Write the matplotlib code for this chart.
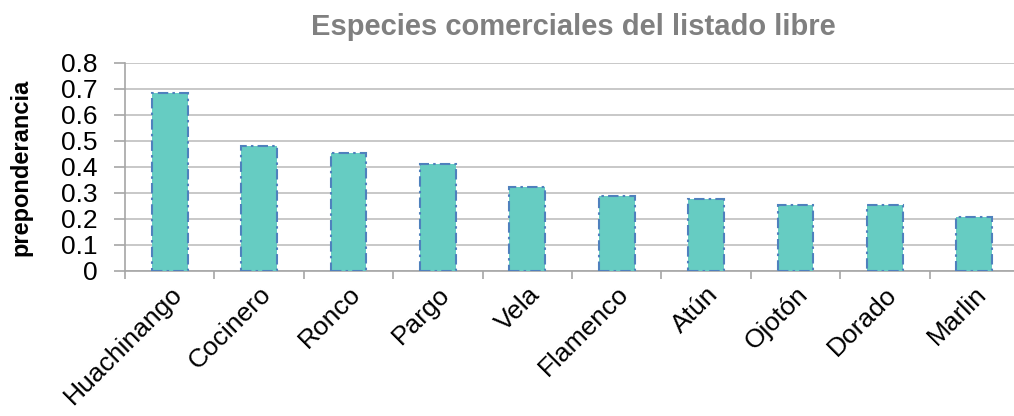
import matplotlib
matplotlib.use("Agg")
import matplotlib.pyplot as plt
import numpy as np

plt.rcParams['font.family'] = ['Liberation Sans', 'DejaVu Sans']

especies = ["Huachinango", "Cocinero", "Ronco", "Pargo", "Vela",
            "Flamenco", "Atún", "Ojotón", "Dorado", "Marlin"]
preponderancia = [0.685, 0.481, 0.454, 0.410, 0.323,
                  0.288, 0.277, 0.254, 0.254, 0.207]
yticks = [0, 0.1, 0.2, 0.3, 0.4, 0.5, 0.6, 0.7, 0.8]

fig = plt.figure(figsize=(10.14, 4.16), dpi=100)
ax = fig.add_axes([0.1233, 0.3486, 0.8817, 0.5])

x = np.arange(len(especies))
ax.bar(x, preponderancia, width=0.40, color="#66CCC2", edgecolor="#4F81BD",
       linewidth=1.5, linestyle=(0, (5, 2, 1.2, 2)), zorder=3)

ax.set_xlim(-0.5, len(especies) - 0.5)
ax.set_ylim(0, 0.8)
ax.set_yticks(yticks)
ax.set_yticklabels(["0" if v == 0 else f"{v:.1f}" for v in yticks], fontsize=19)
ax.yaxis.grid(True, color="#BFBFBF", linewidth=1.2, zorder=0)

ax.set_xticks(x)
ax.set_xticklabels(especies, rotation=45, ha="right", rotation_mode="anchor", fontsize=19)
ax.tick_params(axis="x", length=0, pad=8)
ax.set_xticks(np.arange(-0.5, len(especies), 1.0), minor=True)
ax.tick_params(axis="x", which="minor", length=6, color="#A6A6A6", width=1.2)
ax.tick_params(axis="y", length=8, color="#A6A6A6", width=1.2, pad=12)

for s in ["top", "right"]:
    ax.spines[s].set_visible(False)
ax.spines["left"].set_color("#A6A6A6")
ax.spines["bottom"].set_color("#A6A6A6")
ax.spines["left"].set_linewidth(1.2)
ax.spines["bottom"].set_linewidth(1.2)

ax.set_ylabel("preponderancia", fontsize=17, fontweight="bold", labelpad=20)
fig.text(0.565, 0.935, "Especies comerciales del listado libre", ha="center", va="center",
         fontsize=21, fontweight="bold", color="#808080")

fig.savefig("out.png", dpi=100)
